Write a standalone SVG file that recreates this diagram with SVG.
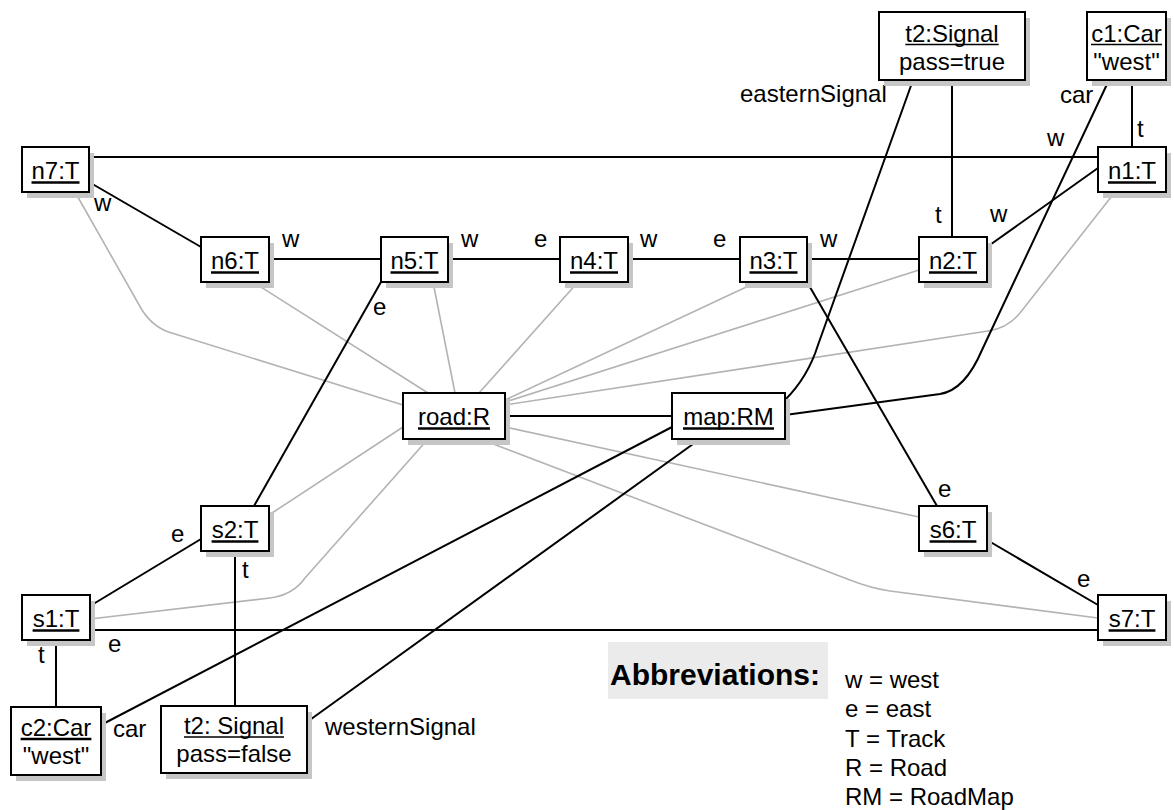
<svg xmlns="http://www.w3.org/2000/svg" width="1174" height="810" viewBox="0 0 1174 810">
<style>
.box{fill:#fff;stroke:#000;stroke-width:2}
.sh{fill:#c6c6c6}
.lbl{font-family:"Liberation Sans",Arial,sans-serif;font-size:24px;fill:#000;text-anchor:middle}
.ul{stroke:#000;stroke-width:2.6}
.ul2{stroke:#000;stroke-width:1.6}
.edge{fill:none;stroke:#000;stroke-width:2}
.ref{fill:none;stroke:#b3b3b3;stroke-width:1.6}
.t{font-family:"Liberation Sans",Arial,sans-serif;font-size:24px;fill:#000}
.ab{font-family:"Liberation Sans",Arial,sans-serif;font-size:30px;font-weight:bold;fill:#000}
</style>
<rect width="1174" height="810" fill="#fff"/>
<g id="connectors">
  <g id="refs">
    <path class="ref" d="M75,192 L142,310 Q154,329 175,334 L403,405"/>
    <path class="ref" d="M253,282 L428,393"/>
    <path class="ref" d="M433,282 L455,393"/>
    <path class="ref" d="M578,282 L479,393"/>
    <path class="ref" d="M757,282 L505,400"/>
    <path class="ref" d="M919,270 L505,402"/>
    <path class="ref" d="M1115,192 L1020,313 Q1008,328 988,331 L505,405"/>
    <path class="ref" d="M269,515 L403,427"/>
    <path class="ref" d="M90,619 L270,598 Q293,595 305,578 L428,439"/>
    <path class="ref" d="M919,517 L505,427"/>
    <path class="ref" d="M480,439 L850,580 Q870,588 890,591 L1098,618"/>
  </g>
  <g id="links">
    <path class="edge" d="M89,157 H1098"/>
    <path class="edge" d="M89,182 L201,247"/>
    <path class="edge" d="M269,259 H381"/>
    <path class="edge" d="M448,259 H560"/>
    <path class="edge" d="M628,259 H740"/>
    <path class="edge" d="M807,259 H919"/>
    <path class="edge" d="M987,247 L1098,168"/>
    <path class="edge" d="M952,80 V237"/>
    <path class="edge" d="M1132,80 V147"/>
    <path class="edge" d="M913,80 L818,345 Q808,377 785,400"/>
    <path class="edge" d="M1109,80 L982,350 Q965,390 940,394 L785,415"/>
    <path class="edge" d="M807,282 L937,506"/>
    <path class="edge" d="M987,540 L1098,605"/>
    <path class="edge" d="M90,630 H1098"/>
    <path class="edge" d="M90,606 L201,539"/>
    <path class="edge" d="M381,282 L254,506"/>
    <path class="edge" d="M235,551 V706"/>
    <path class="edge" d="M56,640 V707"/>
    <path class="edge" d="M101,725 L672,427"/>
    <path class="edge" d="M307,722 L700,439"/>
    <path class="edge" d="M505,416 H672"/>
  </g>
  <g id="edge-labels">
    <text class="t" x="94" y="211">w</text>
    <text class="t" x="282" y="247">w</text>
    <text class="t" x="461" y="247">w</text>
    <text class="t" x="534" y="247">e</text>
    <text class="t" x="640" y="247">w</text>
    <text class="t" x="713" y="247">e</text>
    <text class="t" x="820" y="247">w</text>
    <text class="t" x="935" y="223">t</text>
    <text class="t" x="990" y="222">w</text>
    <text class="t" x="1047" y="146">w</text>
    <text class="t" x="1137" y="137">t</text>
    <text class="t" x="740" y="102">easternSignal</text>
    <text class="t" x="1060" y="103">car</text>
    <text class="t" x="373" y="315">e</text>
    <text class="t" x="938" y="497">e</text>
    <text class="t" x="1077" y="587">e</text>
    <text class="t" x="171" y="542">e</text>
    <text class="t" x="108" y="652">e</text>
    <text class="t" x="242" y="578">t</text>
    <text class="t" x="38" y="663">t</text>
    <text class="t" x="113" y="737">car</text>
    <text class="t" x="325" y="735">westernSignal</text>
  </g>
</g>
<g id="n7"><rect class="sh" x="27" y="153" width="67" height="45"/><rect class="box" x="22" y="147" width="67" height="45"/><text class="lbl" x="55.5" y="179">n7:T</text><line class="ul" x1="31.5" y1="182.5" x2="79.5" y2="182.5"/></g>
<g id="n6"><rect class="sh" x="206" y="243" width="68" height="45"/><rect class="box" x="201" y="237" width="68" height="45"/><text class="lbl" x="235" y="269">n6:T</text><line class="ul" x1="211" y1="272.5" x2="259" y2="272.5"/></g>
<g id="n5"><rect class="sh" x="386" y="243" width="67" height="45"/><rect class="box" x="381" y="237" width="67" height="45"/><text class="lbl" x="414.5" y="269">n5:T</text><line class="ul" x1="390.5" y1="272.5" x2="438.5" y2="272.5"/></g>
<g id="n4"><rect class="sh" x="565" y="243" width="68" height="45"/><rect class="box" x="560" y="237" width="68" height="45"/><text class="lbl" x="594" y="269">n4:T</text><line class="ul" x1="570" y1="272.5" x2="618" y2="272.5"/></g>
<g id="n3"><rect class="sh" x="745" y="243" width="67" height="45"/><rect class="box" x="740" y="237" width="67" height="45"/><text class="lbl" x="773.5" y="269">n3:T</text><line class="ul" x1="749.5" y1="272.5" x2="797.5" y2="272.5"/></g>
<g id="n2"><rect class="sh" x="924" y="243" width="68" height="45"/><rect class="box" x="919" y="237" width="68" height="45"/><text class="lbl" x="953" y="269">n2:T</text><line class="ul" x1="929" y1="272.5" x2="977" y2="272.5"/></g>
<g id="n1"><rect class="sh" x="1103" y="153" width="68" height="45"/><rect class="box" x="1098" y="147" width="68" height="45"/><text class="lbl" x="1132" y="179">n1:T</text><line class="ul" x1="1108" y1="182.5" x2="1156" y2="182.5"/></g>
<g id="t2top"><rect class="sh" x="884" y="18" width="146" height="68"/><rect class="box" x="879" y="12" width="146" height="68"/><text class="lbl" x="952" y="42">t2:Signal</text><line class="ul2" x1="905.3" y1="44.5" x2="998.7" y2="44.5"/><text class="lbl" x="952" y="70">pass=true</text></g>
<g id="c1"><rect class="sh" x="1092" y="18" width="79" height="68"/><rect class="box" x="1087" y="12" width="79" height="68"/><text class="lbl" x="1126.5" y="42">c1:Car</text><line class="ul2" x1="1091" y1="44.5" x2="1162" y2="44.5"/><text class="lbl" x="1126.5" y="70">"west"</text></g>
<g id="road"><rect class="sh" x="408" y="399" width="102" height="46"/><rect class="box" x="403" y="393" width="102" height="46"/><text class="lbl" x="454" y="425">road:R</text><line class="ul" x1="418" y1="428.5" x2="490" y2="428.5"/></g>
<g id="map"><rect class="sh" x="677" y="399" width="113" height="46"/><rect class="box" x="672" y="393" width="113" height="46"/><text class="lbl" x="728.5" y="425">map:RM</text><line class="ul" x1="683" y1="428.5" x2="774" y2="428.5"/></g>
<g id="s2"><rect class="sh" x="206" y="512" width="68" height="45"/><rect class="box" x="201" y="506" width="68" height="45"/><text class="lbl" x="235" y="538">s2:T</text><line class="ul" x1="211.6" y1="541.5" x2="258.4" y2="541.5"/></g>
<g id="s1"><rect class="sh" x="27" y="601" width="68" height="45"/><rect class="box" x="22" y="595" width="68" height="45"/><text class="lbl" x="56" y="627">s1:T</text><line class="ul" x1="32.6" y1="630.5" x2="79.4" y2="630.5"/></g>
<g id="s6"><rect class="sh" x="924" y="512" width="68" height="45"/><rect class="box" x="919" y="506" width="68" height="45"/><text class="lbl" x="953" y="538">s6:T</text><line class="ul" x1="929.6" y1="541.5" x2="976.4" y2="541.5"/></g>
<g id="s7"><rect class="sh" x="1103" y="601" width="68" height="45"/><rect class="box" x="1098" y="595" width="68" height="45"/><text class="lbl" x="1132" y="627">s7:T</text><line class="ul" x1="1108.6" y1="630.5" x2="1155.4" y2="630.5"/></g>
<g id="c2"><rect class="sh" x="16" y="713" width="90" height="68"/><rect class="box" x="11" y="707" width="90" height="68"/><text class="lbl" x="56" y="736">c2:Car</text><line class="ul" x1="20.6" y1="739" x2="91.4" y2="739"/><text class="lbl" x="56" y="764">"west"</text></g>
<g id="t2bot"><rect class="sh" x="166" y="712" width="146" height="67"/><rect class="box" x="161" y="706" width="146" height="67"/><text class="lbl" x="234" y="734">t2: Signal</text><line class="ul2" x1="184" y1="737" x2="284" y2="737"/><text class="lbl" x="234" y="762">pass=false</text></g>
<g id="legend">
  <rect x="608" y="642" width="220" height="57" fill="#ebebeb"/>
  <text class="ab" x="610" y="685">Abbreviations:</text>
  <text class="t" x="845" y="688">w = west</text>
  <text class="t" x="845" y="717">e = east</text>
  <text class="t" x="845" y="747">T = Track</text>
  <text class="t" x="845" y="776">R = Road</text>
  <text class="t" x="845" y="805">RM = RoadMap</text>
</g>
</svg>
